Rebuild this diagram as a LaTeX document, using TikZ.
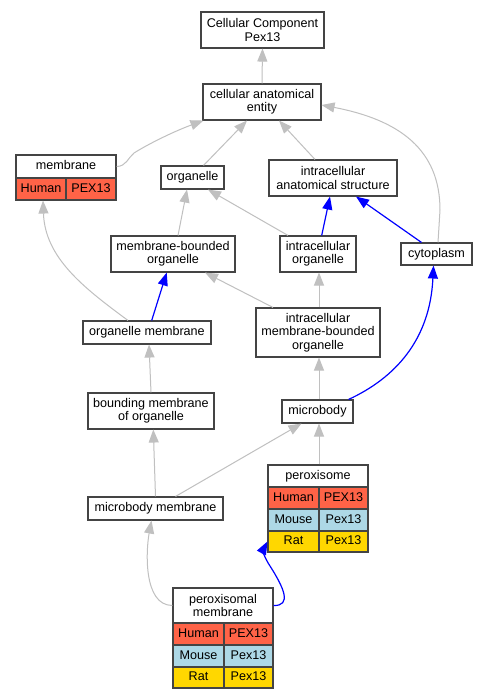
\documentclass[tikz,border=0pt]{standalone}
\usepackage{fontspec}
\setmainfont{Liberation Sans}
\usetikzlibrary{arrows.meta}
\definecolor{bord}{HTML}{444444}
\definecolor{gedge}{HTML}{C0C0C0}
\definecolor{human}{HTML}{FF6347}
\definecolor{mouse}{HTML}{ADD8E6}
\definecolor{rat}{HTML}{FFD700}
\begin{document}
\begin{tikzpicture}[x=1pt,y=-1pt,
  box/.style={draw=bord,line width=1.1pt,fill=white,inner sep=0pt,align=center,font=\fontsize{12.6}{13.4}\selectfont},
  one/.style={text height=9.2pt,text depth=2.6pt},
  grayline/.style={draw=gedge,line width=1pt,-{Triangle[length=13pt,width=10pt]}},
  blueline/.style={draw=blue,line width=1.2pt,-{Triangle[length=13pt,width=10pt]}},
]
\fill[white] (0,0) rectangle (487,699);
\useasboundingbox (0,0) rectangle (487,699);

% plain nodes
\node[box,minimum width=123pt,minimum height=36pt] (cc) at (262.5,30) {Cellular Component\\Pex13};
\node[box,minimum width=118pt,minimum height=36pt] (cae) at (262,102) {cellular anatomical\\entity};
\node[box,one,minimum width=63pt,minimum height=23pt] (org) at (192.5,177.5) {organelle};
\node[box,minimum width=128pt,minimum height=36pt] (ias) at (333,178) {intracellular\\anatomical structure};
\node[box,minimum width=124pt,minimum height=36pt] (mbo) at (173,254) {membrane-bounded\\organelle};
\node[box,minimum width=76pt,minimum height=36pt] (io) at (318,254) {intracellular\\organelle};
\node[box,one,minimum width=71pt,minimum height=22pt] (cyto) at (436.5,254) {cytoplasm};
\node[box,one,minimum width=128pt,minimum height=23pt] (om) at (147,332.5) {organelle membrane};
\node[box,minimum width=124pt,minimum height=49pt] (imbo) at (318,332.5) {intracellular\\membrane-bounded\\organelle};
\node[box,minimum width=126pt,minimum height=36pt] (bmo) at (151,411) {bounding membrane\\of organelle};
\node[box,one,minimum width=71pt,minimum height=23pt] (mb) at (317.5,411.5) {microbody};
\node[box,one,minimum width=135pt,minimum height=23pt] (mbm) at (155.5,508.5) {microbody membrane};

% membrane table
\node[box,one,minimum width=100pt,minimum height=23pt] (memh) at (66,166.5) {membrane};
\node[box,one,fill=human,minimum width=50pt,minimum height=22pt] (memhu) at (41,189) {Human};
\node[box,one,fill=human,minimum width=50pt,minimum height=22pt] (memhg) at (91,189) {PEX13};

% peroxisome table
\node[box,one,minimum width=100pt,minimum height=22pt] (peh) at (318,476) {peroxisome};
\node[box,one,fill=human,minimum width=51pt,minimum height=22pt] (pehu) at (293.5,498) {Human};
\node[box,one,fill=human,minimum width=49pt,minimum height=22pt] (pehg) at (343.5,498) {PEX13};
\node[box,one,fill=mouse,minimum width=51pt,minimum height=22pt] (pemo) at (293.5,520) {Mouse};
\node[box,one,fill=mouse,minimum width=49pt,minimum height=22pt] (pemg) at (343.5,520) {Pex13};
\node[box,one,fill=rat,minimum width=51pt,minimum height=21pt] (pera) at (293.5,541.5) {Rat};
\node[box,one,fill=rat,minimum width=49pt,minimum height=21pt] (perg) at (343.5,541.5) {Pex13};

% peroxisomal membrane table
\node[box,minimum width=100pt,minimum height=35pt] (pmh) at (223,605.5) {peroxisomal\\membrane};
\node[box,one,fill=human,minimum width=51pt,minimum height=22pt] (pmhu) at (198.5,634) {Human};
\node[box,one,fill=human,minimum width=49pt,minimum height=22pt] (pmhg) at (248.5,634) {PEX13};
\node[box,one,fill=mouse,minimum width=51pt,minimum height=22pt] (pmmo) at (198.5,656) {Mouse};
\node[box,one,fill=mouse,minimum width=49pt,minimum height=22pt] (pmmg) at (248.5,656) {Pex13};
\node[box,one,fill=rat,minimum width=51pt,minimum height=21pt] (pmra) at (198.5,677.5) {Rat};
\node[box,one,fill=rat,minimum width=49pt,minimum height=21pt] (pmrg) at (248.5,677.5) {Pex13};

% gray edges
\draw[grayline] (cae.north) -- (cc.south);
\draw[grayline] (memh.east) .. controls (126,166.5) and (128,158) .. (134,153) .. controls (150,143) and (175,131) .. ([xshift=1pt]cae.south west);
\draw[grayline] ([xshift=11pt]org.north) -- ([xshift=-15pt]cae.south);
\draw[grayline] ([xshift=-18pt]ias.north) -- ([xshift=17pt]cae.south);
\draw[grayline] ([xshift=1.5pt]cyto.north) -- (440,210) .. controls (440,150) and (400,120) .. ([yshift=-3pt]cae.east);
\draw[grayline] ([xshift=-19pt]om.north) .. controls (84,288) and (45,258) .. ([xshift=2pt]memhu.south);
\draw[grayline] ([xshift=5pt]mbo.north) -- ([xshift=-5.5pt]org.south);
\draw[grayline] ([xshift=-30pt]io.north) -- ([xshift=15.5pt]org.south);
\draw[grayline] ([xshift=-45pt]imbo.north) -- ([xshift=32pt]mbo.south);
\draw[grayline] ([xshift=1pt]imbo.north) -- ([xshift=1pt]io.south);
\draw[grayline] ([xshift=1.5pt]mb.north) -- ([xshift=1pt]imbo.south);
\draw[grayline] (bmo.north) -- ([xshift=2pt]om.south);
\draw[grayline] (mbm.north) -- ([xshift=2.3pt]bmo.south);
\draw[grayline] ([xshift=20pt]mbm.north) -- ([xshift=-16pt]mb.south);
\draw[grayline] ([xshift=1pt]peh.north) -- ([xshift=1.5pt]mb.south);
\draw[grayline] (pmh.west) .. controls (143,605.5) and (146,550) .. ([xshift=-4pt]mbm.south);

% blue edges
\draw[blueline] ([xshift=3.7pt]io.north) -- ([xshift=-3pt]ias.south);
\draw[blueline] ([xshift=-15pt]cyto.north) -- ([xshift=23pt]ias.south);
\draw[blueline] ([xshift=4.7pt]om.north) -- ([xshift=-6.3pt]mbo.south);
\draw[blueline] ([xshift=-5pt]mb.north east) .. controls (395,378) and (430,340) .. ([xshift=-3pt]cyto.south);
\draw[blueline] (pmh.east) .. controls (292,606) and (284,588) .. (270,566) .. controls (264,557) and (263,550) .. (pera.west);
\end{tikzpicture}
\end{document}
